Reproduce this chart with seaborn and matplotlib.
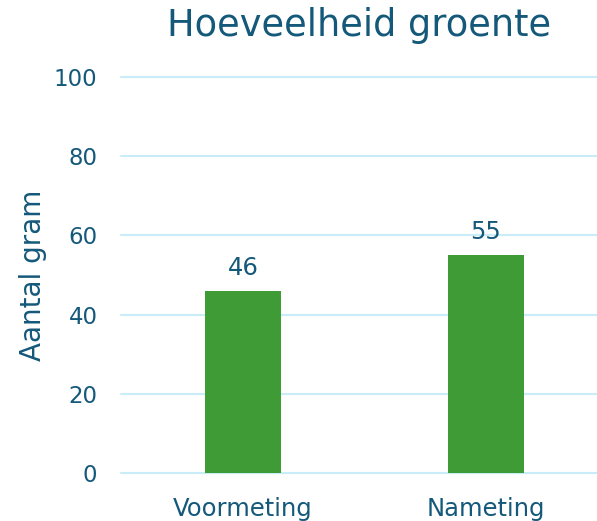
import matplotlib
matplotlib.use("Agg")
import matplotlib.pyplot as plt
import seaborn as sns
import pandas as pd

categories = ["Voormeting", "Nameting"]
values = [46, 55]
yticks = [0, 20, 40, 60, 80, 100]

title = "Hoeveelheid groente"
ylabel = "Aantal gram"

text_color = "#14587a"
bar_color = "#3f9b35"
grid_color = "#c8ecf8"

sns.set_theme(style="white")
plt.rcParams['font.family'] = ['DejaVu Sans']

df = pd.DataFrame({"cat": categories, "val": values})

fig = plt.figure(figsize=(5.97, 5.21), dpi=100)
ax = fig.add_axes([121/597, 48/521, 476/597, 396/521])

sns.barplot(data=df, x="cat", y="val", color=bar_color, width=0.313, ax=ax,
            saturation=1, edgecolor="none")

ax.set_ylim(0, 100)
ax.set_xlim(-0.502, 1.457)
ax.set_yticks(yticks)
ax.set_yticklabels([str(t) for t in yticks])
for t in yticks:
    ax.axhline(t, color=grid_color, lw=1.5, zorder=0, clip_on=False)

for s in ax.spines.values():
    s.set_visible(False)

ax.tick_params(axis="y", length=0, pad=17, labelsize=16.5, labelcolor=text_color)
ax.tick_params(axis="x", length=0, pad=17, labelsize=17.5, labelcolor=text_color)
ax.set_xlabel("")
ax.set_ylabel(ylabel, fontsize=20, color=text_color, labelpad=5)

for i, v in enumerate(values):
    ax.annotate(str(v), (i, v), xytext=(0, 8), textcoords="offset points",
                ha="center", va="bottom", fontsize=17.5, color=text_color)

fig.text(359/597, 1 - 25.5/521, title, ha="center", va="center",
         fontsize=26.5, color=text_color)

fig.savefig("out.png", dpi=100)
